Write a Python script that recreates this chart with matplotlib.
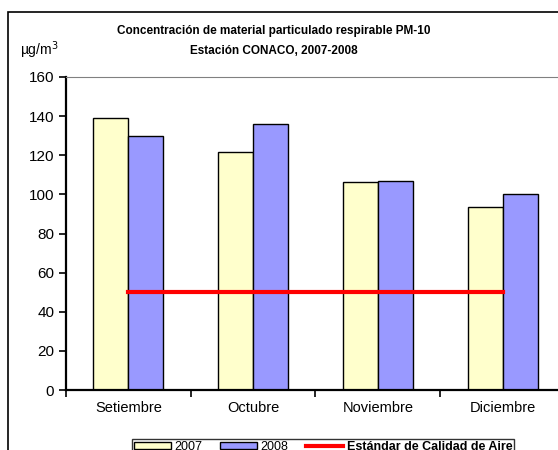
import matplotlib.pyplot as plt
import matplotlib.patches as mpatches
import numpy as np

plt.rcParams['font.family'] = ['Liberation Sans Narrow', 'Liberation Sans', 'DejaVu Sans']

# Data
meses = ['Setiembre', 'Octubre', 'Noviembre', 'Diciembre']
pm10_2007 = [139, 121.5, 106.5, 93.5]
pm10_2008 = [130, 136, 107, 100]
estandar = [50, 50, 50, 50]

fig = plt.figure(figsize=(5.58, 4.5), dpi=100)
ax = fig.add_axes([66 / 558, 1 - 390 / 450, 499 / 558, 313 / 450])

x = np.arange(len(meses))
w = 0.28
b1 = ax.bar(x - w / 2, pm10_2007, w, color='#FFFFCC', edgecolor='black', linewidth=1, label='2007')
b2 = ax.bar(x + w / 2, pm10_2008, w, color='#9999FF', edgecolor='black', linewidth=1, label='2008')
l1, = ax.plot(x, estandar, color='#FF0000', linewidth=3, label='Estándar de Calidad de Aire')

ax.set_xlim(-0.5, 3.5)
ax.set_ylim(0, 160)
ax.set_yticks(range(0, 161, 20))
ax.set_xticks(x)
ax.set_xticklabels(meses)
ax.set_xticks(np.arange(-0.5, 4, 1), minor=True)
ax.tick_params(axis='x', which='major', length=0, labelsize=10.5, pad=8)
ax.tick_params(axis='x', which='minor', length=5, width=1.2, direction='out')
ax.tick_params(axis='y', length=5, width=1.2, direction='out', labelsize=11)
ax.spines['left'].set_linewidth(1.6)
ax.spines['bottom'].set_linewidth(1.6)
ax.spines['top'].set_color('#808080')
ax.spines['right'].set_color('#808080')

fig.text(274 / 558, 1 - 31 / 450, 'Concentración de material particulado respirable PM-10',
         ha='center', va='center', fontsize=8.5, fontweight='bold')
fig.text(274 / 558, 1 - 51 / 450, 'Estación CONACO, 2007-2008',
         ha='center', va='center', fontsize=8.5, fontweight='bold')
fig.text(20 / 558, 1 - 50 / 450, 'µg/m$^3$', ha='left', va='center', fontsize=10)

# outer chart border
fig.patches.append(mpatches.Rectangle((8 / 558, -0.1), 1.2, 1.1 - 12 / 450,
                                      transform=fig.transFigure, fill=False,
                                      edgecolor='black', linewidth=1.2))

leg = fig.legend(handles=[b1, b2, l1], loc='upper center',
                 bbox_to_anchor=(323 / 558, 1 - 439 / 450), ncol=3,
                 frameon=True, fancybox=False, edgecolor='black', fontsize=9,
                 handlelength=3.0, handleheight=0.6, columnspacing=1.4, handletextpad=0.25,
                 borderpad=0.15, borderaxespad=0)
leg.get_frame().set_linewidth(1)
leg.get_texts()[2].set_fontweight('bold')

fig.savefig('out.png', dpi=100)
